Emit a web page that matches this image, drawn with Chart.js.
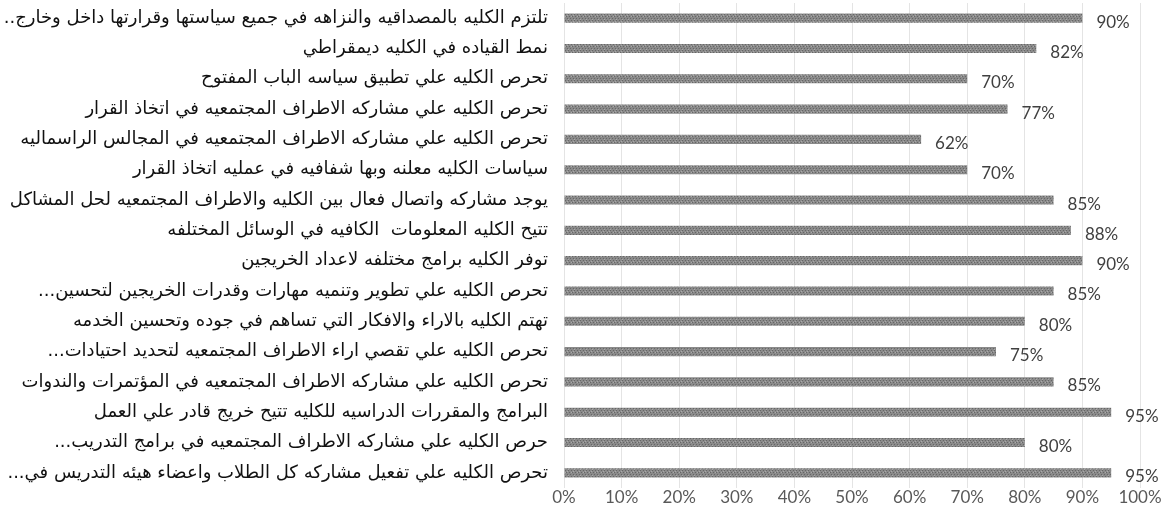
<!DOCTYPE html>
<html>
<head>
<meta charset="utf-8">
<script src="https://cdn.jsdelivr.net/npm/chart.js@4.4.1/dist/chart.umd.min.js"></script>
<style>
  html, body { margin: 0; padding: 0; background: #fff; }
  #wrap { width: 1167px; height: 507px; }
</style>
</head>
<body>
<div id="wrap"><canvas id="chart-bars"></canvas></div>
<script>
// statements (top to bottom)
const categories = [
  "تلتزم الكليه بالمصداقيه والنزاهه في جميع سياستها وقرارتها داخل وخارج..",
  "نمط القياده في الكليه ديمقراطي",
  "تحرص الكليه علي تطبيق سياسه الباب المفتوح",
  "تحرص الكليه علي مشاركه الاطراف المجتمعيه في اتخاذ القرار",
  "تحرص الكليه علي مشاركه الاطراف المجتمعيه في المجالس الراسماليه",
  "سياسات الكليه معلنه وبها شفافيه في عمليه اتخاذ القرار",
  "يوجد مشاركه واتصال فعال بين الكليه والاطراف المجتمعيه لحل المشاكل",
  "تتيح الكليه المعلومات  الكافيه في الوسائل المختلفه",
  "توفر الكليه برامج مختلفه لاعداد الخريجين",
  "تحرص الكليه علي تطوير وتنميه مهارات وقدرات الخريجين لتحسين...",
  "تهتم الكليه بالاراء والافكار التي تساهم في جوده وتحسين الخدمه",
  "تحرص الكليه علي تقصي اراء الاطراف المجتمعيه لتحديد احتيادات...",
  "تحرص الكليه علي مشاركه الاطراف المجتمعيه في المؤتمرات والندوات",
  "البرامج والمقررات الدراسيه للكليه تتيح خريج قادر علي العمل",
  "حرص الكليه علي مشاركه الاطراف المجتمعيه في برامج التدريب...",
  "تحرص الكليه علي تفعيل مشاركه كل الطلاب واعضاء هيئه التدريس في...",
];
const values = [90, 82, 70, 77, 62, 70, 85, 88, 90, 85, 80, 75, 85, 95, 80, 95];
const xTickLabels = ["0%", "10%", "20%", "30%", "40%", "50%", "60%", "70%", "80%", "90%", "100%"];

// speckled grey fill like the scanned bars
function makePattern() {
  const c = document.createElement("canvas");
  c.width = 6;
  c.height = 6;
  const p = c.getContext("2d");
  p.fillStyle = "#8a8a8a";
  p.fillRect(0, 0, 6, 6);
  p.fillStyle = "#666666";
  for (let i = 0; i < 6; i++) {
    p.fillRect(i, (i * 2) % 6, 1, 1);
  }
  p.fillStyle = "#aaaaaa";
  p.fillRect(1, 4, 1, 1);
  p.fillRect(4, 1, 1, 1);
  p.fillRect(3, 3, 1, 1);
  return p.createPattern(c, "repeat");
}

const valueLabels = {
  id: "valueLabels",
  afterDatasetsDraw(chart) {
    const ctx = chart.ctx;
    const meta = chart.getDatasetMeta(0);
    ctx.save();
    ctx.font = "17px Lato";
    ctx.fillStyle = "#404040";
    ctx.textAlign = "left";
    ctx.textBaseline = "middle";
    meta.data.forEach((bar, i) => {
      ctx.fillText(values[i] + "%", bar.x + 14, bar.y + 4);
    });
    ctx.restore();
  },
};

var ctx = document.getElementById("chart-bars").getContext("2d");

new Chart(ctx, {
  type: "bar",
  data: {
    labels: categories,
    datasets: [
      {
        data: values,
        backgroundColor: makePattern(),
        borderWidth: 0,
        barPercentage: 0.3,
        categoryPercentage: 1,
      },
    ],
  },
  options: {
    indexAxis: "y",
    responsive: true,
    maintainAspectRatio: false,
    animation: false,
    layout: {
      padding: { left: 0, right: 27, top: 3, bottom: 0 },
    },
    plugins: {
      legend: { display: false },
      tooltip: { enabled: false },
    },
    scales: {
      x: {
        min: 0,
        max: 100,
        border: { display: false },
        grid: {
          display: true,
          drawTicks: false,
          color: "#e4e4e4",
        },
        ticks: {
          stepSize: 10,
          padding: 1,
          color: "#595959",
          font: { size: 17, family: "Lato", lineHeight: 1 },
          callback: (value) => xTickLabels[value / 10],
        },
      },
      y: {
        border: { display: false },
        grid: { display: false, drawTicks: false },
        afterFit(scale) {
          scale.width = 564;
          scale.paddingTop = 0;
          scale.paddingBottom = 0;
        },
        ticks: {
          autoSkip: false,
          padding: 16,
          color: "#111",
          font: { size: 18, family: "DejaVu Sans" },
          callback: function (value) {
            return this.getLabelForValue(value) + "\u200F";
          },
        },
      },
    },
  },
  plugins: [valueLabels],
});
</script>
</body>
</html>
